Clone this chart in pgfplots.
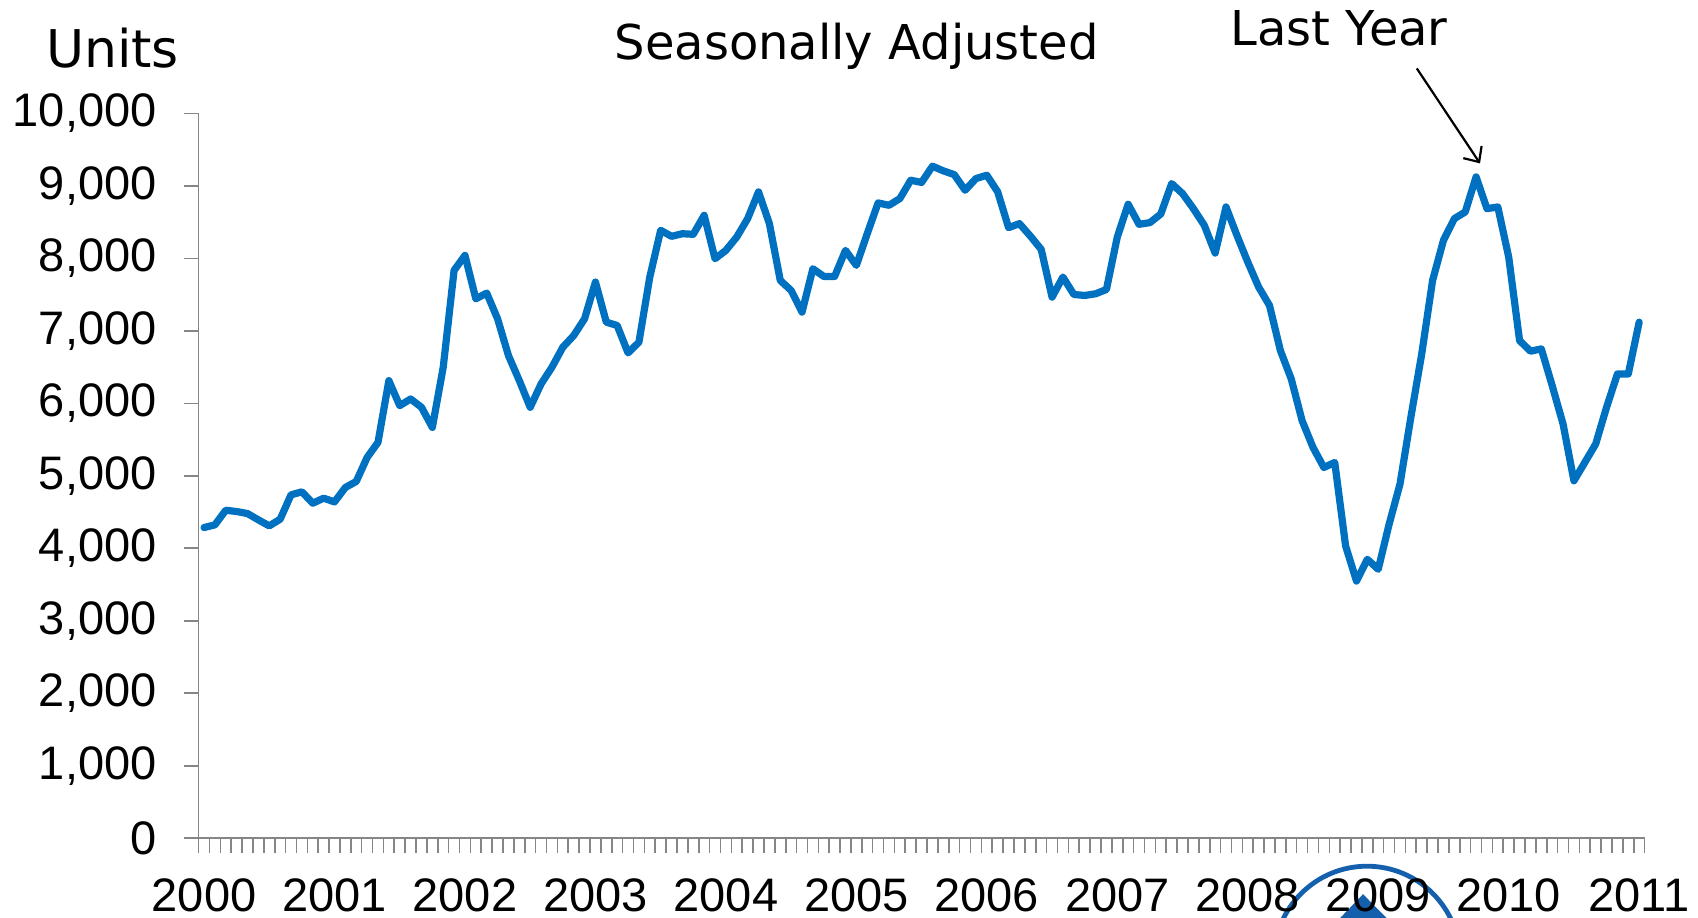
\documentclass[border=0pt]{standalone}
\usepackage{pgfplots}
\pgfplotsset{compat=1.18}
\usepackage{pgfplotstable}
\usepackage{fontspec}
\setmainfont{Liberation Sans}
\newfontfamily\dejavu{DejaVu Sans}
\usetikzlibrary{arrows.meta}
\definecolor{lineblue}{HTML}{0070C0}
\definecolor{axisgray}{HTML}{868686}
\definecolor{logoblue}{HTML}{1560AC}

\pgfplotstableread{
x y
0 4286
1 4323
2 4525
3 4507
4 4479
5 4392
6 4309
7 4401
8 4737
9 4779
10 4622
11 4691
12 4640
13 4839
14 4922
15 5253
16 5461
17 6313
18 5968
19 6060
20 5945
21 5668
22 6498
23 7834
24 8041
25 7442
26 7521
27 7166
28 6659
29 6313
30 5945
31 6267
32 6498
33 6774
34 6935
35 7166
36 7673
37 7120
38 7074
39 6696
40 6843
41 7742
42 8387
43 8304
44 8340
45 8332
46 8594
47 7995
48 8110
49 8295
50 8548
51 8917
52 8479
53 7696
54 7557
55 7258
56 7857
57 7751
58 7751
59 8110
60 7903
61 8341
62 8765
63 8732
64 8825
65 9078
66 9048
67 9272
68 9207
69 9156
70 8940
71 9101
72 9147
73 8917
74 8424
75 8479
76 8308
77 8124
78 7465
79 7742
80 7502
81 7488
82 7511
83 7571
84 8295
85 8746
86 8470
87 8493
88 8612
89 9032
90 8894
91 8686
92 8456
93 8073
94 8709
95 8318
96 7949
97 7604
98 7350
99 6728
100 6336
101 5760
102 5392
103 5115
104 5184
105 4032
106 3548
107 3848
108 3710
109 4332
110 4885
111 5807
112 6682
113 7696
114 8249
115 8548
116 8640
117 9124
118 8686
119 8709
120 8018
121 6866
122 6719
123 6751
124 6244
125 5714
126 4931
127 5184
128 5438
129 5945
130 6405
131 6405
132 7120
}\datatable

\begin{document}
\begin{tikzpicture}
\path[use as bounding box] (-99.3pt,-39.4pt) rectangle (749.7pt,419.1pt);
% partial logo at the bottom
\draw[logoblue, line width=2.4pt] (584.2pt,-60.5pt) circle (46.5pt);
\fill[logoblue] (563pt,-48pt) -- (582.2pt,-28pt) -- (602pt,-48pt) -- cycle;
\begin{axis}[
  scale only axis,
  width=723pt, height=362.4pt,
  xmin=-0.5, xmax=132.5, ymin=0, ymax=10000,
  axis x line*=bottom, axis y line*=left,
  axis line style={axisgray, line width=0.8pt},
  every tick/.style={axisgray, line width=0.8pt},
  tick align=outside,
  major tick length=7.3pt,
  xtick={-0.5,0.5,...,132.5},
  xticklabels={},
  extra x ticks={0,12,24,36,48,60,72,84,96,108,120,132},
  extra x tick labels={2000,2001,2002,2003,2004,2005,2006,2007,2008,2009,2010,2011},
  extra x tick style={major tick length=0pt,
    xticklabel style={anchor=north, inner sep=0pt, yshift=-19.8pt}},
  ytick={0,1000,...,10000},
  scaled y ticks=false,
  yticklabel style={anchor=east, inner sep=0pt, xshift=-13.5pt,
    /pgf/number format/.cd, 1000 sep={,}},
  tick label style={font=\fontsize{23.5}{28}\selectfont},
  /pgf/number format/assume math mode=true,
  clip=false,
]
\addplot[lineblue, line width=3.6pt, line join=round, line cap=round, mark=none]
  table[x=x, y=y] {\datatable};
\end{axis}
\node[font=\dejavu\fontsize{26}{30}\selectfont, anchor=base] at (-43pt,385.5pt) {Units};
\node[font=\dejavu\fontsize{24}{28}\selectfont, anchor=base] at (329pt,389.2pt) {Seasonally Adjusted};
\node[font=\dejavu\fontsize{24}{28}\selectfont, anchor=base] at (570.3pt,396.5pt) {Last Year};
\draw[-{Straight Barb[length=6pt,width=11pt]}, line width=1.1pt] (609.1pt,384.9pt) -- (640.7pt,337.4pt);
\end{tikzpicture}
\end{document}
